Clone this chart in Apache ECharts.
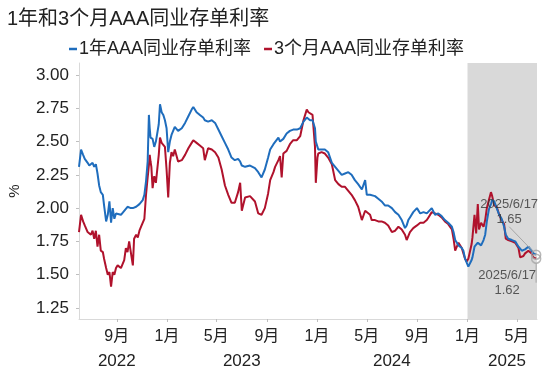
<!DOCTYPE html>
<html>
<head>
<meta charset="utf-8">
<script src="https://cdn.jsdelivr.net/npm/echarts@6/dist/echarts.min.js"></script>
<style>html,body{margin:0;padding:0;background:#fff;}#c{width:550px;height:369px;}</style>
</head>
<body>
<div id="c"></div>
<script>
var dates = ['2022-06-01','2022-06-06','2022-06-11','2022-06-15','2022-06-22','2022-06-26','2022-06-30','2022-07-04','2022-07-08','2022-07-12','2022-07-16','2022-07-20','2022-07-24','2022-07-29','2022-08-01','2022-08-06','2022-08-10','2022-08-14','2022-08-18','2022-08-22','2022-08-26','2022-08-30','2022-09-03','2022-09-11','2022-09-19','2022-09-23','2022-09-27','2022-10-01','2022-10-05','2022-10-10','2022-10-13','2022-10-18','2022-10-22','2022-10-26','2022-10-30','2022-11-03','2022-11-07','2022-11-11','2022-11-15','2022-11-18','2022-11-20','2022-11-22','2022-11-24','2022-11-27','2022-12-01','2022-12-05','2022-12-12','2022-12-15','2022-12-19','2022-12-23','2022-12-27','2022-12-31','2023-01-04','2023-01-08','2023-01-12','2023-01-16','2023-01-20','2023-01-28','2023-02-06','2023-02-14','2023-02-22','2023-03-02','2023-03-06','2023-03-14','2023-03-22','2023-03-30','2023-04-03','2023-04-11','2023-04-20','2023-04-28','2023-05-06','2023-05-14','2023-05-22','2023-05-30','2023-06-07','2023-06-15','2023-06-23','2023-06-28','2023-07-02','2023-07-10','2023-07-22','2023-08-03','2023-08-11','2023-08-19','2023-08-27','2023-09-04','2023-09-09','2023-09-17','2023-09-21','2023-09-29','2023-10-03','2023-10-07','2023-10-11','2023-10-19','2023-10-27','2023-11-04','2023-11-13','2023-11-21','2023-11-29','2023-12-07','2023-12-11','2023-12-15','2023-12-21','2023-12-27','2023-12-29','2024-01-02','2024-01-04','2024-01-12','2024-01-20','2024-01-28','2024-02-06','2024-02-14','2024-02-22','2024-03-01','2024-03-09','2024-03-17','2024-03-25','2024-04-02','2024-04-10','2024-04-19','2024-04-27','2024-05-01','2024-05-09','2024-05-13','2024-05-21','2024-05-29','2024-06-06','2024-06-14','2024-06-22','2024-07-01','2024-07-09','2024-07-17','2024-07-25','2024-07-29','2024-08-02','2024-08-06','2024-08-10','2024-08-14','2024-08-22','2024-08-31','2024-09-08','2024-09-16','2024-09-24','2024-09-28','2024-10-06','2024-10-14','2024-10-22','2024-10-30','2024-11-07','2024-11-15','2024-11-24','2024-11-28','2024-12-02','2024-12-10','2024-12-18','2024-12-22','2024-12-26','2024-12-30','2025-01-03','2025-01-07','2025-01-11','2025-01-13','2025-01-18','2025-01-22','2025-01-26','2025-01-29','2025-02-03','2025-02-09','2025-02-13','2025-02-17','2025-02-22','2025-02-27','2025-03-02','2025-03-07','2025-03-13','2025-03-19','2025-03-25','2025-03-31','2025-04-04','2025-04-10','2025-04-19','2025-04-27','2025-05-05','2025-05-09','2025-05-13','2025-05-17','2025-05-21','2025-05-25','2025-05-29','2025-06-02','2025-06-06','2025-06-10','2025-06-17'];

var oneYear = [2.31,2.44,2.40,2.37,2.34,2.32,2.33,2.34,2.31,2.33,2.26,2.17,2.12,2.10,2.02,1.90,1.95,2.05,1.89,2.00,1.92,1.96,1.95,1.95,1.98,1.99,2.01,2.00,2.00,2.00,2.01,2.01,2.02,2.03,2.04,2.06,2.10,2.20,2.35,2.70,2.60,2.53,2.54,2.52,2.46,2.50,2.63,2.78,2.72,2.70,2.66,2.60,2.42,2.50,2.55,2.58,2.61,2.58,2.60,2.64,2.69,2.74,2.76,2.72,2.70,2.68,2.66,2.65,2.66,2.64,2.59,2.54,2.49,2.44,2.38,2.36,2.37,2.35,2.32,2.31,2.32,2.30,2.27,2.23,2.29,2.38,2.44,2.48,2.49,2.53,2.50,2.51,2.52,2.56,2.58,2.59,2.59,2.60,2.65,2.68,2.68,2.66,2.66,2.60,2.50,2.46,2.44,2.44,2.44,2.42,2.34,2.31,2.28,2.25,2.26,2.27,2.25,2.21,2.18,2.14,2.21,2.10,2.10,2.10,2.09,2.07,2.05,2.02,2.02,2.00,1.97,1.95,1.91,1.88,1.85,1.87,1.91,1.93,1.97,2.00,1.96,1.97,1.96,1.97,2.00,1.95,1.96,1.94,1.91,1.89,1.86,1.82,1.76,1.72,1.70,1.68,1.62,1.63,1.56,1.57,1.61,1.63,1.71,1.72,1.74,1.74,1.72,1.76,1.80,1.90,1.99,2.03,2.06,2.05,2.00,1.95,1.92,1.86,1.80,1.77,1.76,1.75,1.71,1.70,1.68,1.68,1.69,1.70,1.71,1.70,1.68,1.66,1.65];

var threeMonth = [1.82,1.95,1.90,1.87,1.82,1.81,1.80,1.83,1.77,1.83,1.71,1.80,1.68,1.67,1.62,1.55,1.50,1.52,1.41,1.52,1.50,1.55,1.57,1.55,1.61,1.70,1.67,1.75,1.67,1.57,1.77,1.80,1.78,1.83,1.86,1.87,1.92,2.10,2.23,2.32,2.40,2.35,2.31,2.15,2.24,2.19,2.40,2.53,2.49,2.50,2.46,2.29,2.08,2.34,2.42,2.39,2.44,2.35,2.36,2.40,2.45,2.49,2.51,2.49,2.47,2.45,2.36,2.45,2.44,2.42,2.38,2.29,2.17,2.10,2.04,2.04,2.12,2.19,1.98,2.08,2.09,2.05,1.96,1.95,2.00,2.11,2.21,2.27,2.31,2.36,2.39,2.23,2.41,2.43,2.48,2.51,2.51,2.54,2.66,2.74,2.72,2.72,2.70,2.46,2.19,2.38,2.41,2.42,2.41,2.38,2.33,2.21,2.18,2.16,2.16,2.13,2.10,2.06,2.01,1.91,1.98,1.97,1.95,1.91,1.91,1.90,1.90,1.89,1.87,1.82,1.83,1.86,1.84,1.83,1.80,1.76,1.79,1.82,1.85,1.87,1.89,1.89,1.91,1.93,1.97,1.96,1.95,1.93,1.90,1.88,1.84,1.77,1.68,1.74,1.70,1.66,1.62,1.60,1.62,1.63,1.73,1.78,1.95,1.81,2.03,1.84,1.89,1.86,1.91,2.00,2.06,2.12,2.09,2.02,2.01,1.95,1.91,1.88,1.77,1.76,1.75,1.74,1.70,1.63,1.63,1.64,1.66,1.67,1.68,1.68,1.66,1.63,1.62];

var yTicks = [1.25, 1.50, 1.75, 2.00, 2.25, 2.50, 2.75, 3.00];
var monthTicks = ['2022-09-01','2023-01-01','2023-05-01','2023-09-01','2024-01-01','2024-05-01','2024-09-01','2025-01-01','2025-05-01'];
var yearLabels = ['2022','2023','2024','2025'];
var yearLabelDates = ['2022-09-01','2023-07-02','2024-07-01','2025-04-07'];
var names = ['1年AAA同业存单利率', '3个月AAA同业存单利率'];
var lastDate = '2025-06-17';

function ts(s) { var p = s.split('-'); return Date.UTC(+p[0], +p[1] - 1, +p[2]); }

var FONT = '"Liberation Sans", "Noto Sans CJK SC", sans-serif';
var BLUE = '#1f6dbd';
var RED = '#b0122c';
var X_MIN = ts('2022-06-01'), X_MAX = ts('2025-06-19');

var chart = echarts.init(document.getElementById('c'), null, {renderer: 'canvas'});
var lastIdx = dates.length - 1;
var yearTs = yearLabelDates.map(ts);

chart.setOption({
  animation: false,
  backgroundColor: '#fff',
  textStyle: {fontFamily: FONT},
  title: {
    text: '1年和3个月AAA同业存单利率',
    left: 2, top: 4,
    textStyle: {fontFamily: FONT, fontSize: 20, fontWeight: 'normal', color: '#222'}
  },
  legend: {
    data: names,
    left: 64, top: 35,
    icon: 'rect', itemWidth: 8, itemHeight: 2.5, itemGap: 13,
    textStyle: {fontFamily: FONT, fontSize: 18, color: '#222', padding: [0, 0, 0, -3]}
  },
  grid: {left: 79, right: 13, top: 63, bottom: 50, containLabel: false, outerBoundsMode: 'none'},
  xAxis: [{
    type: 'value',
    min: X_MIN, max: X_MAX,
    axisLine: {show: true, lineStyle: {color: '#d9d9d9', width: 1}},
    axisTick: {show: true, length: 3, lineStyle: {color: '#bfbfbf'}, customValues: monthTicks.map(ts)},
    axisLabel: {
      customValues: monthTicks.map(ts), margin: 10,
      fontFamily: FONT, fontSize: 16, color: '#222',
      formatter: function (v) { return (new Date(v).getUTCMonth() + 1) + '月'; }
    },
    splitLine: {show: false}
  }, {
    type: 'value', position: 'bottom', offset: 24,
    min: X_MIN, max: X_MAX,
    axisLine: {show: false}, axisTick: {show: false},
    axisLabel: {
      customValues: yearTs, margin: 10,
      fontFamily: FONT, fontSize: 17, color: '#222',
      formatter: function (v) {
        var i = yearTs.indexOf(v);
        return i >= 0 ? yearLabels[i] : '';
      }
    },
    splitLine: {show: false}
  }],
  yAxis: {
    type: 'value', min: 1.167, max: 3.09,
    name: '%', nameLocation: 'middle', nameRotate: 90, nameGap: 57,
    nameTextStyle: {fontFamily: FONT, fontSize: 15, color: '#222'},
    axisLine: {show: true, lineStyle: {color: '#d9d9d9'}},
    axisTick: {show: true, length: 3, lineStyle: {color: '#bfbfbf'}, customValues: yTicks},
    axisLabel: {customValues: yTicks, margin: 10, fontFamily: FONT, fontSize: 17, color: '#222',
      formatter: function (v) { return v.toFixed(2); }},
    splitLine: {show: false}
  },
  series: [{
    type: 'line', name: 'band', data: [], z: 1, silent: true,
    markArea: {silent: true, itemStyle: {color: '#d9d9d9'},
      data: [[{xAxis: ts('2025-01-01')}, {xAxis: X_MAX}]]}
  }, {
    type: 'line', name: names[1], z: 3,
    data: dates.map(function (d, i) { return [ts(d), threeMonth[i]]; }),
    showSymbol: false, symbol: 'none',
    lineStyle: {color: RED, width: 2}, itemStyle: {color: RED}
  }, {
    type: 'line', name: names[0], z: 4,
    data: dates.map(function (d, i) { return [ts(d), oneYear[i]]; }),
    showSymbol: false, symbol: 'none',
    lineStyle: {color: BLUE, width: 2}, itemStyle: {color: BLUE}
  }, {
    type: 'scatter', name: 'end1', z: 6,
    data: [[ts(lastDate), oneYear[lastIdx]]],
    symbol: 'circle', symbolSize: 9,
    itemStyle: {color: 'rgba(255,255,255,0)', borderColor: '#a6a6a6', borderWidth: 1.5},
    label: {show: true, position: 'inside', fontFamily: FONT, fontSize: 13, color: '#333', lineHeight: 15,
      formatter: function () { return lastDate.replace(/-0?/g, '/') + '\n' + oneYear[lastIdx].toFixed(2); }},
    labelLayout: {dx: -27, dy: -43},
    labelLine: {show: true, lineStyle: {color: '#a6a6a6', width: 1}}
  }, {
    type: 'scatter', name: 'end2', z: 6,
    data: [[ts(lastDate), threeMonth[lastIdx]]],
    symbol: 'circle', symbolSize: 9,
    itemStyle: {color: 'rgba(255,255,255,0)', borderColor: '#a6a6a6', borderWidth: 1.5},
    label: {show: true, position: 'inside', fontFamily: FONT, fontSize: 13, color: '#333', lineHeight: 15,
      formatter: function () { return lastDate.replace(/-0?/g, '/') + '\n' + threeMonth[lastIdx].toFixed(2); }},
    labelLayout: {dx: -29, dy: 24},
    labelLine: {show: true, lineStyle: {color: '#a6a6a6', width: 1}}
  }]
});
</script>
</body>
</html>
